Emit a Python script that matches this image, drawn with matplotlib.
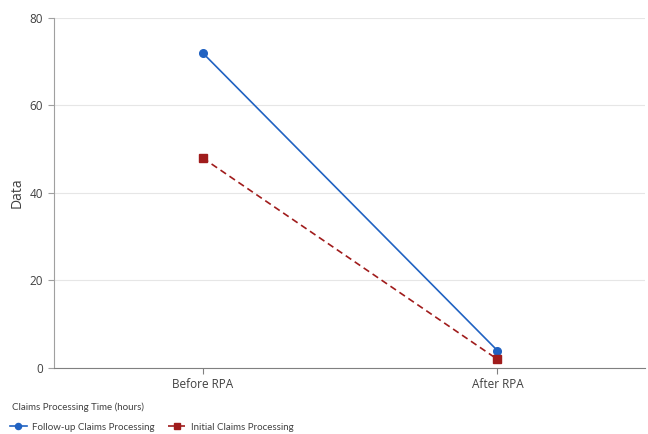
import numpy as np
import matplotlib.pyplot as plt

plt.rcParams['font.family'] = ['Open Sans', 'DejaVu Sans']

# ---- Data ----
categories = ["Before RPA", "After RPA"]
follow_up = [72, 4]
initial = [48, 2]
legend_title = 'Claims Processing Time (hours)'

x = np.arange(len(categories))

fig = plt.figure(figsize=(6.48, 4.34), dpi=100)
ax = fig.add_axes([0.083, 0.152, 0.912, 0.807])

blue = '#2062c2'
red = '#a01c1c'
ax.plot(x, follow_up, color=blue, lw=1.2, marker='o', ms=5.5,
        label='Follow-up Claims Processing')
ax.plot(x, initial, color=red, lw=1.2, ls=(0, (4, 2.5)), marker='s', ms=5.5,
        label='Initial Claims Processing')

ax.set_xlim(-0.505, 1.5)
ax.set_ylim(0, 80)
ax.set_yticks([0, 20, 40, 60, 80])
ax.set_xticks(x)
ax.set_xticklabels(categories)
ax.set_ylabel('Data', fontsize=10, color='#404040')

ax.grid(axis='y', color='#e6e6e6', lw=0.8)
ax.set_axisbelow(True)
for s in ['top', 'right']:
    ax.spines[s].set_visible(False)
ax.spines['left'].set_color('#a0a0a0')
ax.spines['bottom'].set_color('#808080')
ax.tick_params(axis='y', length=4, color='#a0a0a0', labelsize=8.5, labelcolor='#404040')
ax.tick_params(axis='x', length=4, color='#808080', labelsize=8.5, labelcolor='#404040')

legfont = ['Lato', 'DejaVu Sans']
fig.text(12 / 648, 1 - 407 / 434, legend_title, fontsize=7.0, family=legfont,
         color='#404040', va='center', ha='left')
leg = fig.legend(loc='center left', bbox_to_anchor=(10 / 648, 1 - 427 / 434), ncol=2,
                 prop={'family': legfont, 'size': 7.0}, frameon=False,
                 handlelength=1.7, handletextpad=0.6, columnspacing=1.4,
                 markerscale=0.8, borderaxespad=0.0, borderpad=0.0)
for t in leg.get_texts():
    t.set_color('#404040')

fig.savefig('out.png', dpi=100)
